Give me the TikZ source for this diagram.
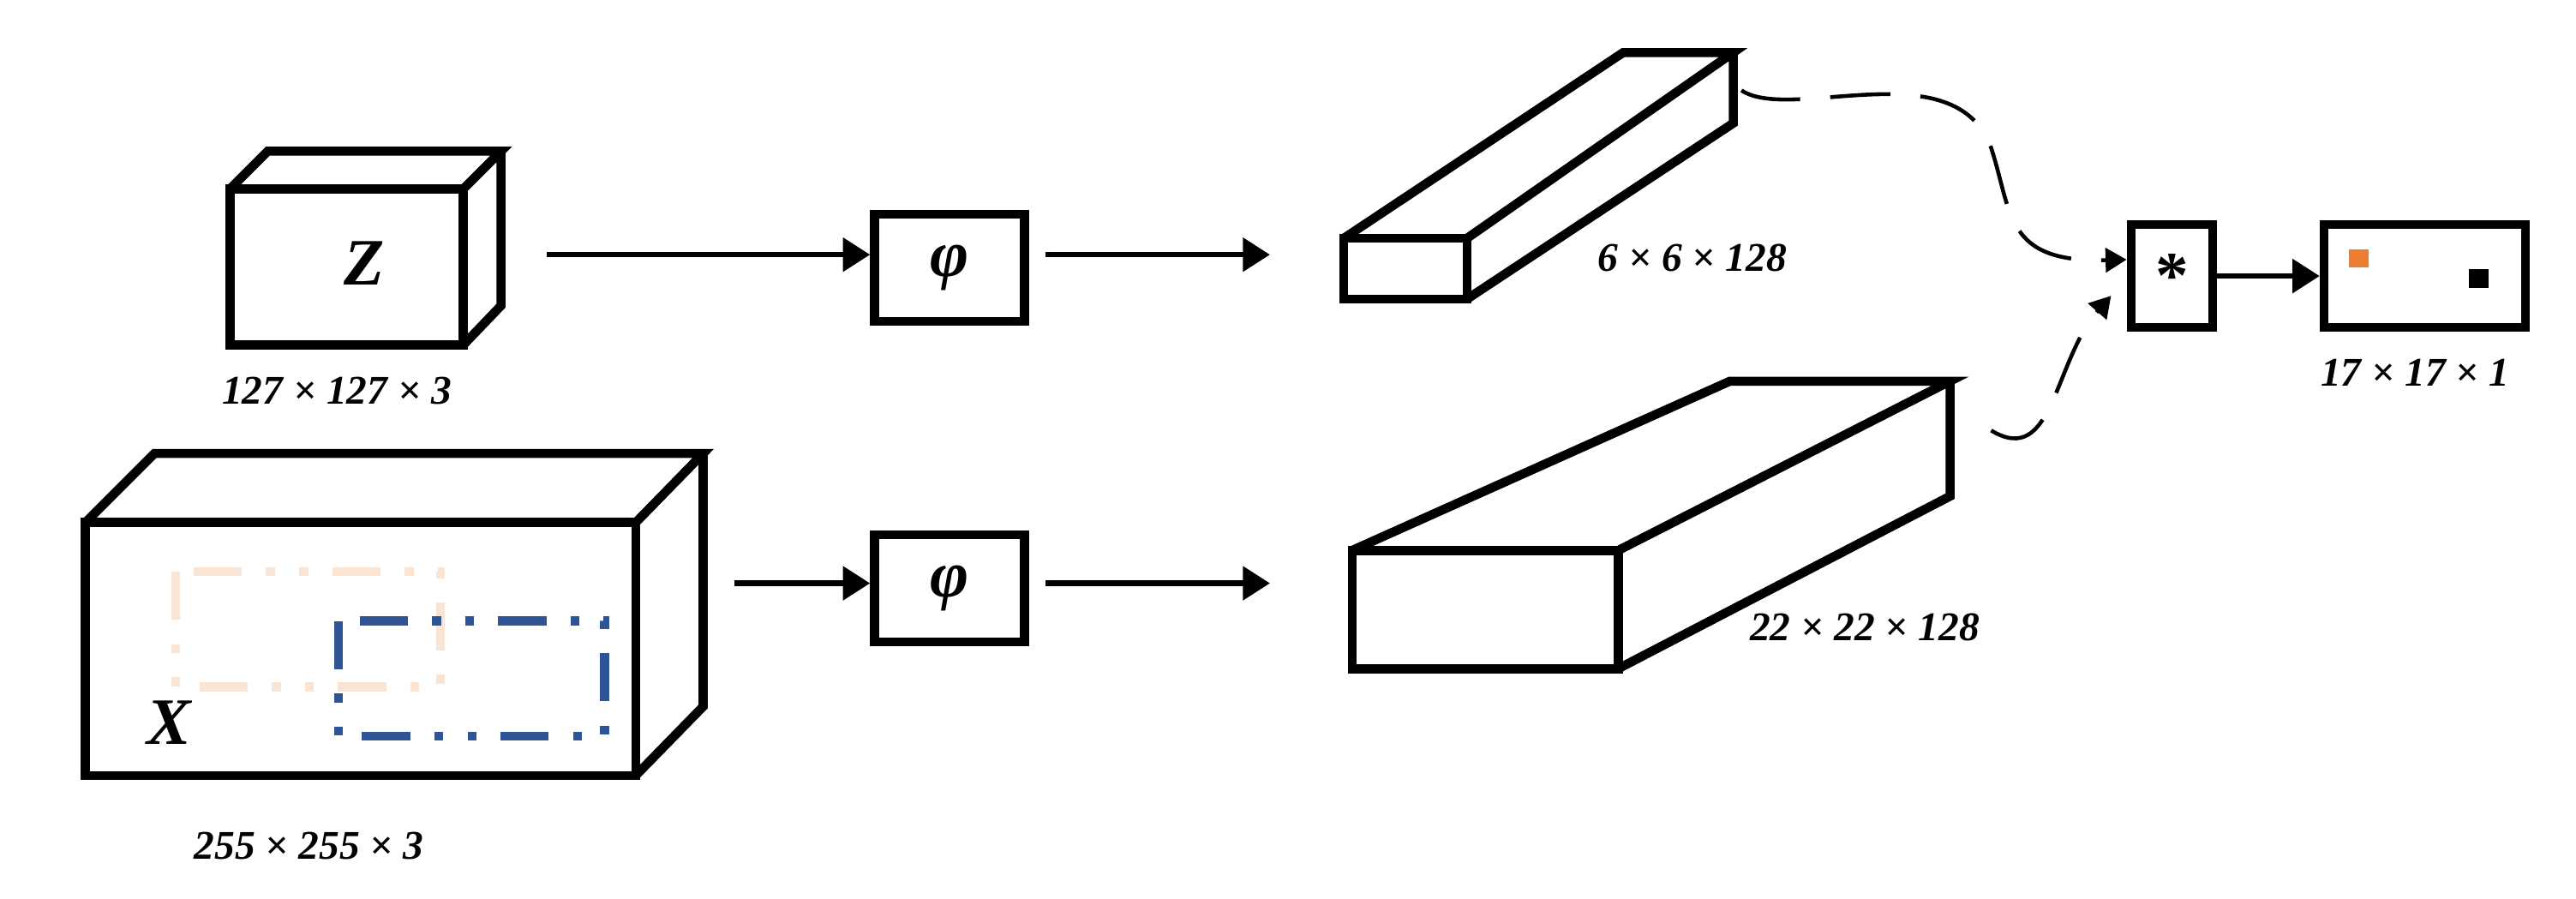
\documentclass[tikz,border=0pt]{standalone}
\usepackage{fontspec}
\setmainfont{Liberation Serif}
\usetikzlibrary{arrows.meta}
\begin{document}
\begin{tikzpicture}[x=0.01917cm,y=-0.01917cm,
  edge/.style={line width=3pt,line join=miter},
  conn/.style={line width=1.8pt,-{Triangle[length=9pt,width=11pt]}},
  dconn/.style={line width=1.3pt,dash pattern=on 20pt off 10pt,-{Triangle[length=7pt,width=8pt]}},
  opbox/.style={draw,line width=3pt,minimum width=1.75cm,minimum height=1.25cm,inner sep=0pt},
  dim/.style={font=\fontsize{13.5}{15}\selectfont\bfseries\itshape},
  bigl/.style={font=\fontsize{22}{24}\selectfont\bfseries\itshape},
  dd/.style={line width=3pt,dash pattern=on 16pt off 8pt on 3pt off 8pt on 3pt off 8pt}]
\useasboundingbox (0,0) rectangle (1568,547);
% Z cuboid
\draw[edge] (140,115) rectangle (282,210);
\draw[edge] (140,115) -- (163,92) -- (305,92) -- (282,115) (305,92) -- (305,186) -- (282,210);
\node[bigl] (zl) at (222,160) {Z};
\node[dim] (zd) at (205,238) {127 × 127 × 3};
\coordinate (zout) at (333,155);
% X cuboid
\draw[edge] (52,318) rectangle (387,472);
\draw[edge] (52,318) -- (94,276) -- (428,276) -- (387,318) (428,276) -- (428,430) -- (387,472);
\draw[dd,color={rgb,255:red,250;green,228;blue,212}] (107,348) rectangle (268,418);
\draw[dd,color={rgb,255:red,47;green,84;blue,150}] (206,378) rectangle (368,448);
\node[bigl] (xl) at (103,440) {X};
\node[dim] (xd) at (188,515) {255 × 255 × 3};
\coordinate (xout) at (447,355);
% phi boxes
\node[opbox,bigl] (p1) at (578,163) {φ};
\node[opbox,bigl] (p2) at (578,358) {φ};
\draw[conn] (zout) -- (p1.west|-zout);
\draw[conn] (xout) -- (p2.west|-xout);
\coordinate (f1) at (818,155);
\coordinate (f2) at (818,355);
\draw[conn] (p1.east|-f1) ++(10,0) -- (773,155);
\draw[conn] (p2.east|-f2) ++(10,0) -- (773,355);
% top feature
\draw[edge] (818,145) rectangle (893,182);
\draw[edge] (818,145) -- (988,32) -- (1055,32) -- (893,145) (1055,32) -- (1055,75) -- (893,182);
\node[dim] (fd1) at (1030,157) {6 × 6 × 128};
% bottom feature
\draw[edge] (823,335) rectangle (985,407);
\draw[edge] (823,335) -- (1053,232) -- (1187,232) -- (985,335) (1187,232) -- (1187,302) -- (985,407);
\node[dim] (fd2) at (1135,382) {22 × 22 × 128};
% correlation
\node[opbox,minimum width=0.95cm,minimum height=1.2cm,font=\fontsize{22}{24}\selectfont\bfseries] (st) at (1322,168) {*};
\node[opbox,minimum width=2.35cm,minimum height=1.2cm] (out) at (1476,168) {};
\fill[color={rgb,255:red,237;green,125;blue,49}] (1430,152) rectangle (1442,163);
\fill[black] (1503,164) rectangle (1515,175);
\node[dim] (od) at (1470,227) {17 × 17 × 1};
\draw[conn] (st.east) -- (out.west);
\coordinate (c1) at (1060,55);
\coordinate (c2) at (1212,262);
\draw[dconn] (c1) .. controls (1090,75) and (1190,30) .. (1212,90) .. controls (1225,130) and (1220,160) .. (st.west|-0,158);
\draw[dconn] (c2) .. controls (1250,285) and (1250,220) .. (1285,180);
\end{tikzpicture}
\end{document}
